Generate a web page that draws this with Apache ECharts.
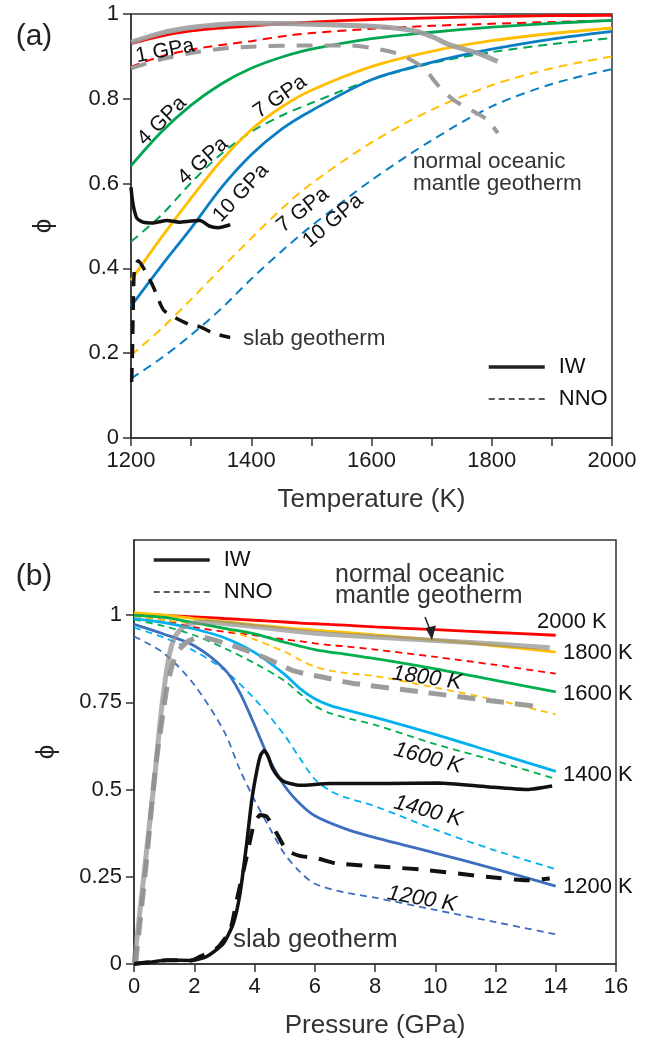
<!DOCTYPE html>
<html><head><meta charset="utf-8">
<script src="https://cdn.jsdelivr.net/npm/echarts@6/dist/echarts.min.js"></script>
<style>html,body{margin:0;padding:0;background:#fff}#c{width:652px;height:1042px}</style>
</head><body><div id="c"></div>
<script>
const FONT = '"Liberation Sans", Arial, "DejaVu Sans", sans-serif';

// ---------- Panel (a): phi vs temperature ----------
const T_GRID = [1200, 1250, 1300, 1350, 1400, 1450, 1500, 1600, 1700, 1800, 1900, 2000];
const A_IW_1GPA  = [0.930, 0.948, 0.960, 0.967, 0.972, 0.977, 0.981, 0.987, 0.991, 0.994, 0.996, 0.997];
const A_NNO_1GPA = [0.876, 0.900, 0.916, 0.927, 0.936, 0.947, 0.955, 0.965, 0.972, 0.977, 0.981, 0.985];
const A_IW_4GPA  = [0.642, 0.721, 0.785, 0.835, 0.872, 0.898, 0.917, 0.942, 0.957, 0.969, 0.978, 0.985];
const A_NNO_4GPA = [0.463, 0.525, 0.602, 0.670, 0.722, 0.760, 0.790, 0.845, 0.884, 0.910, 0.929, 0.943];
const A_IW_7GPA  = [0.372, 0.472, 0.566, 0.654, 0.727, 0.780, 0.820, 0.876, 0.912, 0.937, 0.954, 0.967];
const A_NNO_7GPA = [0.195, 0.257, 0.327, 0.400, 0.471, 0.540, 0.600, 0.697, 0.774, 0.832, 0.872, 0.900];
const A_IW_10GPA  = [0.311, 0.405, 0.495, 0.590, 0.668, 0.728, 0.772, 0.845, 0.886, 0.917, 0.941, 0.959];
const A_NNO_10GPA = [0.140, 0.188, 0.243, 0.305, 0.375, 0.440, 0.500, 0.608, 0.702, 0.782, 0.835, 0.870];

const A_OCEAN_IW_T   = [1200, 1250, 1300, 1350, 1400, 1500, 1600, 1650, 1680, 1705, 1727, 1754, 1782, 1810];
const A_OCEAN_IW_PHI = [0.933, 0.955, 0.968, 0.975, 0.978, 0.976, 0.971, 0.965, 0.957, 0.944, 0.929, 0.917, 0.905, 0.888];
const A_OCEAN_NNO_T   = [1200, 1250, 1300, 1350, 1400, 1500, 1560, 1600, 1648, 1687, 1710, 1737, 1770, 1793, 1810];
const A_OCEAN_NNO_PHI = [0.872, 0.893, 0.908, 0.918, 0.923, 0.926, 0.926, 0.920, 0.904, 0.872, 0.833, 0.797, 0.770, 0.750, 0.719];

const A_SLAB_IW_T   = [1200, 1202, 1205, 1210, 1220, 1235, 1260, 1280, 1300, 1315, 1330, 1345, 1365];
const A_SLAB_IW_PHI = [0.591, 0.565, 0.540, 0.518, 0.509, 0.507, 0.513, 0.509, 0.512, 0.513, 0.500, 0.496, 0.503];
const A_SLAB_NNO_T   = [1201, 1202, 1203, 1204, 1206, 1212, 1222, 1237, 1254, 1276, 1300, 1315, 1337, 1365];
const A_SLAB_NNO_PHI = [0.132, 0.176, 0.254, 0.333, 0.404, 0.418, 0.398, 0.357, 0.302, 0.282, 0.266, 0.262, 0.247, 0.237];

// ---------- Panel (b): phi vs pressure ----------
const P_GRID = [0, 1, 2, 3, 4, 5, 5.5, 6, 6.5, 7, 8, 10, 12, 14];
const B_IW_2000K  = [1.003, 0.999, 0.995, 0.990, 0.985, 0.980, 0.977, 0.975, 0.973, 0.971, 0.966, 0.958, 0.950, 0.942];
const B_NNO_2000K = [0.999, 0.985, 0.965, 0.952, 0.942, 0.930, 0.925, 0.919, 0.914, 0.910, 0.901, 0.880, 0.857, 0.832];
const B_IW_1800K  = [1.006, 1.000, 0.990, 0.981, 0.972, 0.964, 0.960, 0.957, 0.953, 0.950, 0.943, 0.929, 0.912, 0.894];
const B_NNO_1800K = [0.997, 0.985, 0.975, 0.960, 0.930, 0.895, 0.872, 0.852, 0.841, 0.834, 0.825, 0.792, 0.757, 0.715];
const B_IW_1600K  = [1.000, 0.993, 0.978, 0.962, 0.946, 0.922, 0.911, 0.901, 0.894, 0.888, 0.875, 0.846, 0.813, 0.780];
const B_NNO_1600K = [0.987, 0.968, 0.942, 0.905, 0.862, 0.811, 0.775, 0.740, 0.719, 0.706, 0.685, 0.630, 0.582, 0.530];
const B_IW_1400K  = [0.990, 0.978, 0.960, 0.935, 0.893, 0.830, 0.790, 0.760, 0.741, 0.729, 0.707, 0.658, 0.605, 0.552];
const B_NNO_1400K = [0.964, 0.935, 0.897, 0.842, 0.760, 0.655, 0.590, 0.530, 0.497, 0.478, 0.452, 0.385, 0.325, 0.272];
const P_GRID_1200 = [0, 1, 2, 3, 3.5, 4, 4.5, 5, 5.5, 6, 7, 8, 10, 12, 14];
const B_IW_1200K  = [0.973, 0.945, 0.912, 0.845, 0.780, 0.685, 0.585, 0.510, 0.460, 0.425, 0.388, 0.362, 0.318, 0.272, 0.223];
const B_NNO_1200K = [0.939, 0.890, 0.800, 0.665, 0.560, 0.470, 0.390, 0.315, 0.265, 0.230, 0.205, 0.190, 0.155, 0.120, 0.085];

const B_OCEAN_IW_P   = [0, 0.1, 0.3, 0.5, 0.7, 0.85, 1.0, 1.15, 1.3, 1.5, 1.8, 2.2, 3, 4, 5, 6, 8, 10, 12, 13.8];
const B_OCEAN_IW_PHI = [0, 0.075, 0.232, 0.39, 0.545, 0.68, 0.79, 0.875, 0.925, 0.955, 0.972, 0.980, 0.976, 0.967, 0.957, 0.948, 0.937, 0.927, 0.917, 0.906];
const B_OCEAN_NNO_P   = [0.05, 0.42, 0.7, 0.85, 1.0, 1.1, 1.3, 1.5, 1.75, 2.2, 3, 4, 4.8, 5.3, 6.2, 7.3, 9.5, 11.7, 13.5];
const B_OCEAN_NNO_PHI = [0, 0.30, 0.555, 0.65, 0.74, 0.795, 0.865, 0.90, 0.922, 0.937, 0.920, 0.890, 0.860, 0.840, 0.823, 0.804, 0.780, 0.756, 0.737];

const B_SLAB_IW_P   = [0, 0.5, 1.1, 1.9, 2.4, 2.97, 3.3, 3.52, 3.74, 3.91, 4.08, 4.2, 4.32, 4.45, 4.6, 4.8, 5.0, 5.5, 6.5, 8.4, 10.1, 11.7, 13.05, 13.88];
const B_SLAB_IW_PHI = [0, 0.005, 0.011, 0.010, 0.021, 0.059, 0.117, 0.202, 0.345, 0.470, 0.555, 0.598, 0.612, 0.595, 0.560, 0.535, 0.522, 0.512, 0.517, 0.517, 0.519, 0.508, 0.500, 0.510];
const B_SLAB_NNO_P   = [0, 0.5, 1.1, 1.9, 2.19, 2.75, 3.19, 3.41, 3.74, 3.96, 4.19, 4.41, 4.74, 5.07, 5.5, 6.07, 6.73, 9.5, 11.7, 13.05, 13.8];
const B_SLAB_NNO_PHI = [0, 0.005, 0.011, 0.010, 0.021, 0.045, 0.097, 0.183, 0.307, 0.393, 0.427, 0.422, 0.374, 0.326, 0.310, 0.303, 0.288, 0.271, 0.250, 0.240, 0.245];

const LEGEND_NAMES = ['IW', 'NNO'];
const B_TICKS_Y = [0, 0.25, 0.5, 0.75, 1];

function zip(xs, ys) { return xs.map((x, i) => [x, ys[i]]); }
function line(name, xs, ys, color, width, dash, idx, z, extra) {
  return Object.assign({
    type: 'line', name: name, xAxisIndex: idx, yAxisIndex: idx,
    data: zip(xs, ys), symbol: 'none', showSymbol: false, smooth: 0.3,
    lineStyle: { color: color, width: width, type: dash || 'solid', cap: 'butt' },
    z: z, silent: true, animation: false
  }, extra || {});
}

const RED = '#ff0000', GREEN_A = '#00a651', ORANGE = '#ffbf00', BLUE_A = '#0a7ec2';
const GREEN_B = '#00b050', CYAN = '#00b0f0', BLUE_B = '#3d6ebf';
const GRAY = '#9c9c9c', BLACK = '#111111';
const DA = [9, 6], DB = [7, 5];

const series = [
  // legend keys
  { type: 'line', name: 'IW', data: [], xAxisIndex: 0, yAxisIndex: 0, symbol: 'none',
    lineStyle: { color: '#222', width: 3.5 }, itemStyle: { color: 'transparent', opacity: 0 } },
  { type: 'line', name: 'NNO', data: [], xAxisIndex: 0, yAxisIndex: 0, symbol: 'none',
    lineStyle: { color: '#222', width: 1.3, type: [6, 4] }, itemStyle: { color: 'transparent', opacity: 0 } },
  // panel a
  line('a1n', T_GRID, A_NNO_1GPA, RED, 2, DA, 0, 3),
  line('a4n', T_GRID, A_NNO_4GPA, GREEN_A, 2, DA, 0, 3),
  line('a7n', T_GRID, A_NNO_7GPA, ORANGE, 2, DA, 0, 3),
  line('a10n', T_GRID, A_NNO_10GPA, BLUE_A, 2, DA, 0, 3),
  line('a1', T_GRID, A_IW_1GPA, RED, 2.8, null, 0, 4),
  line('a4', T_GRID, A_IW_4GPA, GREEN_A, 2.8, null, 0, 4),
  line('a7', T_GRID, A_IW_7GPA, ORANGE, 2.8, null, 0, 4),
  line('a10', T_GRID, A_IW_10GPA, BLUE_A, 2.8, null, 0, 4),
  line('aon', A_OCEAN_NNO_T, A_OCEAN_NNO_PHI, GRAY, 4, [16, 12], 0, 5),
  line('aoi', A_OCEAN_IW_T, A_OCEAN_IW_PHI, GRAY, 5, null, 0, 5, { lineStyle: { color: GRAY, width: 5, opacity: 0.9 } }),
  line('asn', A_SLAB_NNO_T, A_SLAB_NNO_PHI, BLACK, 3.5, [14, 10], 0, 6, { smooth: 0.2 }),
  line('asi', A_SLAB_IW_T, A_SLAB_IW_PHI, BLACK, 3.5, null, 0, 6, { smooth: 0.2 }),
  // panel b
  line('b2n', P_GRID, B_NNO_2000K, RED, 1.8, DB, 1, 3),
  line('b18n', P_GRID, B_NNO_1800K, ORANGE, 1.8, DB, 1, 3),
  line('b16n', P_GRID, B_NNO_1600K, GREEN_B, 1.8, DB, 1, 3),
  line('b14n', P_GRID, B_NNO_1400K, CYAN, 1.8, DB, 1, 3),
  line('b12n', P_GRID_1200, B_NNO_1200K, BLUE_B, 1.8, DB, 1, 3),
  line('b2', P_GRID, B_IW_2000K, RED, 2.8, null, 1, 4),
  line('b18', P_GRID, B_IW_1800K, ORANGE, 2.8, null, 1, 4),
  line('b16', P_GRID, B_IW_1600K, GREEN_B, 2.8, null, 1, 4),
  line('b14', P_GRID, B_IW_1400K, CYAN, 2.8, null, 1, 4),
  line('b12', P_GRID_1200, B_IW_1200K, BLUE_B, 2.8, null, 1, 4),
  line('bon', B_OCEAN_NNO_P, B_OCEAN_NNO_PHI, GRAY, 5, [18, 11], 1, 5, { smooth: 0.25 }),
  line('boi', B_OCEAN_IW_P, B_OCEAN_IW_PHI, GRAY, 5, null, 1, 5, { smooth: 0.25, lineStyle: { color: '#8f8f8f', width: 5, opacity: 0.7 } }),
  line('bsn', B_SLAB_NNO_P, B_SLAB_NNO_PHI, BLACK, 4, [16, 12], 1, 6, { smooth: 0.2 }),
  line('bsi', B_SLAB_IW_P, B_SLAB_IW_PHI, BLACK, 3.5, null, 1, 6, { smooth: 0.2 })
];

const axisLineStyle = { color: '#333', width: 1.5 };
const labelStyle = { fontSize: 22, color: '#1a1a1a', fontFamily: FONT, margin: 12 };
const nameStyleX = { fontSize: 26, color: '#333', fontFamily: FONT };
const nameStyleY = { fontSize: 26, color: '#222', fontFamily: FONT };

function txt(text, x, y, opt) {
  opt = opt || {};
  return {
    type: 'text', x: x, y: y, rotation: (opt.rot || 0) * Math.PI / 180, z: 100, silent: true,
    style: {
      text: text, fill: opt.color || '#111', fontSize: opt.size || 22, fontFamily: FONT,
      fontStyle: opt.italic ? 'italic' : 'normal', lineHeight: opt.lh || 22,
      textAlign: opt.align || 'center', align: opt.align || 'center',
      textVerticalAlign: opt.va || 'middle', verticalAlign: opt.va || 'middle'
    }
  };
}

const graphics = [
  txt('(a)', 34, 37, { size: 30, color: '#222' }),
  txt('(b)', 34, 577, { size: 30, color: '#222' }),
  txt('1 GPa', 165, 51, { rot: 11, size: 21 }),
  txt('4 GPa', 162, 121, { rot: 45, size: 21 }),
  txt('7 GPa', 280, 97, { rot: 35, size: 21 }),
  txt('4 GPa', 203, 161, { rot: 42, size: 21 }),
  txt('10 GPa', 241, 193, { rot: 47, size: 21 }),
  txt('7 GPa', 303, 210, { rot: 38, size: 21 }),
  txt('10 GPa', 333, 221, { rot: 40, size: 21 }),
  txt('normal oceanic\nmantle geotherm', 413, 151, { align: 'left', va: 'top', color: '#333', lh: 22, size: 22.5 }),
  txt('slab geotherm', 243, 339, { align: 'left', color: '#333', size: 22.5 }),
  txt('normal oceanic\nmantle geotherm', 335, 565, { align: 'left', va: 'top', color: '#333', lh: 21, size: 25 }),
  txt('2000 K', 537, 622, { align: 'left' }),
  txt('1800 K', 563, 653, { align: 'left' }),
  txt('1600 K', 563, 694, { align: 'left' }),
  txt('1400 K', 563, 775, { align: 'left' }),
  txt('1200 K', 563, 887, { align: 'left' }),
  txt('1800 K', 427, 678, { rot: -8, italic: true }),
  txt('1600 K', 428, 758, { rot: -15, italic: true }),
  txt('1400 K', 428, 811, { rot: -15, italic: true }),
  txt('1200 K', 422, 899, { rot: -10, italic: true }),
  txt('slab geotherm', 233, 940, { align: 'left', color: '#333', size: 26 }),
  { type: 'line', z: 100, silent: true, shape: { x1: 425, y1: 617, x2: 430.5, y2: 631 }, style: { stroke: '#222', lineWidth: 1.5 } },
  { type: 'polygon', z: 100, silent: true, shape: { points: [[425.5, 628], [436, 625.5], [432, 640]] }, style: { fill: '#222' } }
];

const legendCommon = {
  data: LEGEND_NAMES, orient: 'vertical', itemWidth: 56, itemHeight: 14, itemGap: 10,
  selectedMode: false, padding: 0,
  itemStyle: { opacity: 0, color: 'transparent', borderWidth: 0 },
  lineStyle: { width: 'inherit', type: 'inherit', color: 'inherit' },
  textStyle: { fontSize: 22, color: '#111', fontFamily: FONT, lineHeight: 22, padding: [0, 0, 0, 9] }
};

const option = {
  animation: false,
  backgroundColor: '#fff',
  grid: [
    { left: 131, top: 14, right: 40, bottom: 604, show: true, borderColor: '#333', borderWidth: 1.5, backgroundColor: 'transparent' },
    { left: 134, top: 540, right: 36, bottom: 78, show: true, borderColor: '#333', borderWidth: 1.5, backgroundColor: 'transparent' }
  ],
  xAxis: [
    { gridIndex: 0, type: 'value', min: 1200, max: 2000, interval: 100,
      name: 'Temperature (K)', nameLocation: 'middle', nameGap: 49, nameTextStyle: nameStyleX,
      axisLine: { show: true, lineStyle: axisLineStyle }, axisTick: { show: true, length: 8, lineStyle: axisLineStyle },
      axisLabel: Object.assign({}, labelStyle, { formatter: v => (v % 200 === 0 ? String(v) : '') }),
      splitLine: { show: false } },
    { gridIndex: 1, type: 'value', min: 0, max: 16, interval: 2,
      name: 'Pressure (GPa)', nameLocation: 'middle', nameGap: 49, nameTextStyle: nameStyleX,
      axisLine: { show: true, lineStyle: axisLineStyle }, axisTick: { show: true, length: 8, lineStyle: axisLineStyle },
      axisLabel: labelStyle, splitLine: { show: false } }
  ],
  yAxis: [
    { gridIndex: 0, type: 'value', min: 0, max: 1, interval: 0.2,
      name: 'ϕ', nameLocation: 'middle', nameGap: 74, nameTextStyle: nameStyleY,
      axisLine: { show: true, lineStyle: axisLineStyle }, axisTick: { show: true, length: 8, lineStyle: axisLineStyle },
      axisLabel: labelStyle, splitLine: { show: false } },
    { gridIndex: 1, type: 'value', min: 0, max: 1.215, interval: 0.25,
      name: 'ϕ', nameLocation: 'middle', nameGap: 74, nameTextStyle: nameStyleY,
      axisLine: { show: true, lineStyle: axisLineStyle },
      axisTick: { show: true, length: 8, lineStyle: axisLineStyle, customValues: B_TICKS_Y },
      axisLabel: Object.assign({}, labelStyle, { customValues: B_TICKS_Y, formatter: v => (v > 1.0001 ? '' : String(v)) }),
      splitLine: { show: false } }
  ],
  legend: [
    Object.assign({}, legendCommon, { left: 487, top: 356 }),
    Object.assign({}, legendCommon, { left: 152, top: 549 })
  ],
  series: series,
  graphic: graphics
};

const chart = echarts.init(document.getElementById('c'), null, { renderer: 'canvas' });
chart.setOption(option);
</script>
</body></html>
